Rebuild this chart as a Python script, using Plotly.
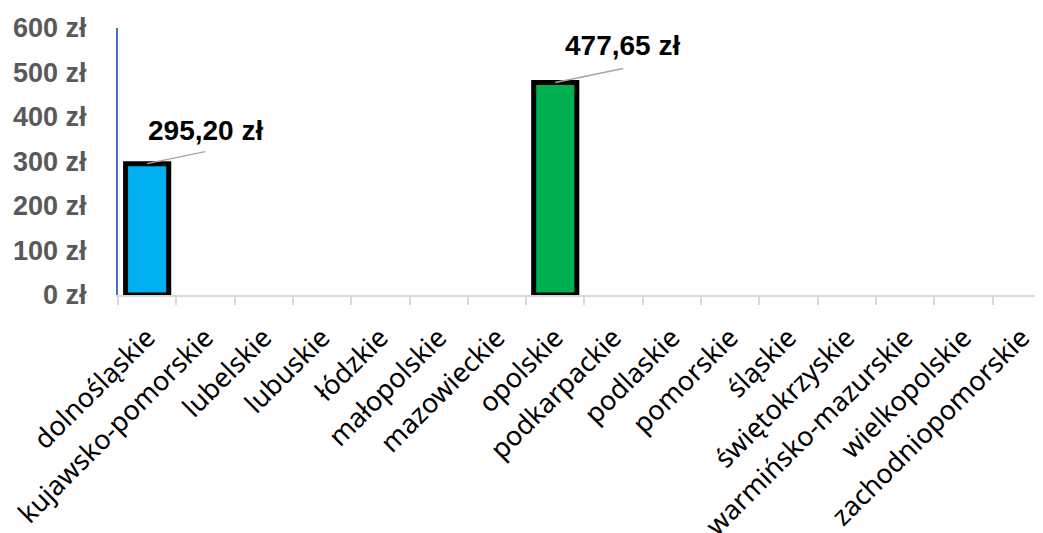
import plotly.graph_objects as go

categories = ["dolnośląskie", "kujawsko-pomorskie", "lubelskie", "lubuskie", "łódzkie",
              "małopolskie", "mazowieckie", "opolskie", "podkarpackie", "podlaskie",
              "pomorskie", "śląskie", "świętokrzyskie", "warmińsko-mazurskie",
              "wielkopolskie", "zachodniopomorskie"]
values = [295.20, None, None, None, None, None, None, 477.65, None, None,
          None, None, None, None, None, None]
bar_colors = ["#00B0F0", "#00B0F0", "#00B0F0", "#00B0F0", "#00B0F0", "#00B0F0", "#00B0F0",
              "#00B050", "#00B050", "#00B050", "#00B050", "#00B050", "#00B050", "#00B050",
              "#00B050", "#00B050"]
y_ticks = [0, 100, 200, 300, 400, 500, 600]
y_tick_text = [f"{v} zł" for v in y_ticks]

def fmt(v):
    return f"{v:.2f}".replace(".", ",") + " zł"

fig = go.Figure()
fig.add_trace(go.Bar(
    x=categories, y=values, width=0.74,
    marker=dict(color=bar_colors, line=dict(color="black", width=5)),
    hoverinfo="skip",
))

label_offsets = {0: (58, 33, 58, 12), 7: (67, 37, 68, 14)}
for i, v in enumerate(values):
    if v is None:
        continue
    tx, ty, lx, ly = label_offsets[i]
    fig.add_shape(type="line", xref="x", yref="y",
                  xsizemode="pixel", ysizemode="pixel",
                  xanchor=categories[i], yanchor=v,
                  x0=0, x1=lx, y0=0, y1=ly,
                  line=dict(color="#A6A6A6", width=1.5))
    fig.add_annotation(x=categories[i], y=v, xref="x", yref="y",
                       text=f"<b>{fmt(v)}</b>", showarrow=False,
                       xshift=tx, yshift=ty, xanchor="center", yanchor="middle",
                       font=dict(family="Liberation Sans", size=28, color="black"))

fig.update_layout(
    width=1035, height=525,
    margin=dict(l=110, r=0, t=20, b=238, autoexpand=False),
    plot_bgcolor="white", paper_bgcolor="white",
    showlegend=False,
)
fig.update_xaxes(
    type="category", range=[-0.5, 15.366],
    showline=True, linecolor="#D9D9D9", linewidth=2,
    ticks="outside", tickson="boundaries", ticklen=8, tickcolor="#D9D9D9", tickwidth=2,
    tickangle=-45, automargin=False, ticklabelstandoff=14,
    tickfont=dict(family="Noto Sans", size=27, color="black"),
    showgrid=False,
)
fig.update_yaxes(
    range=[0, 600], tickvals=y_ticks, ticktext=y_tick_text,
    showline=True, linecolor="#4472C4", linewidth=2,
    showgrid=False, zeroline=False, automargin=False,
    ticks="outside", ticklen=0, ticklabelstandoff=24,
    tickfont=dict(family="Liberation Sans", size=27, color="#595959", weight="bold"),
)

fig.write_html("out.html")
